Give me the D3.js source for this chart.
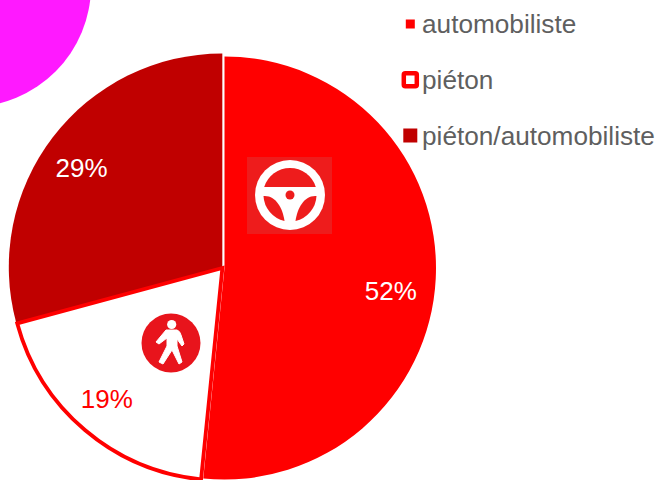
<!DOCTYPE html>
<html>
<head>
<meta charset="utf-8">
<script src="https://cdn.jsdelivr.net/npm/d3@7"></script>
<style>
  html, body { margin: 0; padding: 0; background: #fff; overflow: hidden; }
  text { font-family: "Liberation Sans", Arial, sans-serif; }
</style>
</head>
<body>
<svg id="chartId" width="657" height="480"></svg>
<script>
const categories = ["automobiliste", "piéton", "piéton/automobiliste"];
const values = [51.6, 19.2, 29.2];
const labelColors = ["#ffffff", "#ff0000", "#ffffff"];
const fills = ["#ff0000", "#ffffff", "#c00000"];

const svg = d3.select("#chartId");
const cx = 222, cy = 268, radius = 214;

// magenta blob cut off by the top left corner
svg.append("circle")
  .attr("cx", -30).attr("cy", -14).attr("r", 121)
  .attr("fill", "#ff19ff");

const pie = d3.pie().sort(null).value((d) => d);
const arcs = pie(values);

const g = svg.append("g").attr("transform", `translate(${cx}, ${cy})`);

// the slices sit a little apart, the white gaps come from these shifts
const sliceShift = [[2.5, 0], [0.4, 0], [0.3, -1]];
const sliceRadius = [211.5, 212.5, 213.5];
const drawOrder = [0, 2, 1];

g.selectAll(".slice")
  .data(drawOrder)
  .enter()
  .append("path")
  .attr("class", "slice")
  .attr("transform", (i) => `translate(${sliceShift[i][0]}, ${sliceShift[i][1]})`)
  .attr("d", (i) => d3.arc().innerRadius(0).outerRadius(sliceRadius[i])(arcs[i]))
  .attr("fill", (i) => fills[i])
  .attr("stroke", (i) => (i === 1 ? "#ff0000" : "none"))
  .attr("stroke-width", 3.8);

// labels are not on the slice middle in the original, offsets picked by eye
const labelRadius = [0.796, 0.815, 0.805];
const labelTurn = [4.8, 1, -2.1];
g.selectAll(".label")
  .data(arcs)
  .enter()
  .append("text")
  .attr("class", "label")
  .attr("transform", function (d, i) {
    const r = radius * labelRadius[i];
    const a = (d.startAngle + d.endAngle) / 2 + (labelTurn[i] * Math.PI) / 180;
    return `translate(${Math.sin(a) * r}, ${-Math.cos(a) * r})`;
  })
  .attr("text-anchor", "middle")
  .attr("dy", "0.35em")
  .attr("font-size", 26)
  .attr("fill", (d, i) => labelColors[i])
  .text((d) => Math.round(d.value) + "%");

// steering wheel icon
const wheel = svg.append("g").attr("transform", "translate(290, 195)");
wheel.append("rect")
  .attr("x", -43).attr("y", -38).attr("width", 85).attr("height", 77)
  .attr("fill", "#ee1c1c");
wheel.append("circle").attr("r", 35).attr("fill", "#fff");
wheel.append("path")
  .attr("d", "M-25.8,-8 A27,27 0 0 1 25.8,-8 Z")
  .attr("fill", "#ee1c1c");
wheel.append("path")
  .attr("d", "M-26.5,1 C-14,0 -7,14 -5.5,26 A27,27 0 0 1 -26.5,1 Z")
  .attr("fill", "#ee1c1c");
wheel.append("path")
  .attr("d", "M26.5,1 C14,0 7,14 5.5,26 A27,27 0 0 0 26.5,1 Z")
  .attr("fill", "#ee1c1c");
wheel.append("circle").attr("r", 4.5).attr("fill", "#ee1c1c");

// pedestrian icon
const walker = svg.append("g").attr("transform", "translate(171, 343)");
walker.append("circle").attr("r", 29.5).attr("fill", "#e8141c");
walker.append("circle").attr("cx", 0.7).attr("cy", -18.5).attr("r", 4.6).attr("fill", "#fff");
walker.append("path")
  .attr("d", "M-5,-13 L6,-13 Q9,-12 10,-8 L13,1 L11,3 L6,-4 L6,3 L11,19 L8,21 L1,7 L-8,21 L-12,19 L-4,3 L-4,-5 L-12,1 L-15,-1 Z")
  .attr("fill", "#fff")
  .attr("stroke", "#fff")
  .attr("stroke-width", 1)
  .attr("stroke-linejoin", "round");

// legend
const legendY = d3.scalePoint().domain(categories).range([24, 135.5]);
const legend = svg.selectAll(".legend")
  .data(categories)
  .enter()
  .append("g")
  .attr("class", "legend")
  .attr("transform", (d) => `translate(0, ${legendY(d)})`);

legend.append("text")
  .attr("x", 422)
  .attr("dy", "0.35em")
  .attr("font-size", 26.2)
  .attr("fill", "#5f5f5f")
  .text((d) => d);

const markerSize = [9, 13, 14];
legend.append("rect")
  .attr("x", (d, i) => 410.3 - markerSize[i] / 2)
  .attr("y", (d, i) => -markerSize[i] / 2)
  .attr("width", (d, i) => markerSize[i])
  .attr("height", (d, i) => markerSize[i])
  .attr("rx", (d, i) => (i === 1 ? 1.5 : 0))
  .attr("fill", (d, i) => fills[i])
  .attr("stroke", (d, i) => (i === 1 ? "#ff0000" : "none"))
  .attr("stroke-width", 4.5);
</script>
</body>
</html>
